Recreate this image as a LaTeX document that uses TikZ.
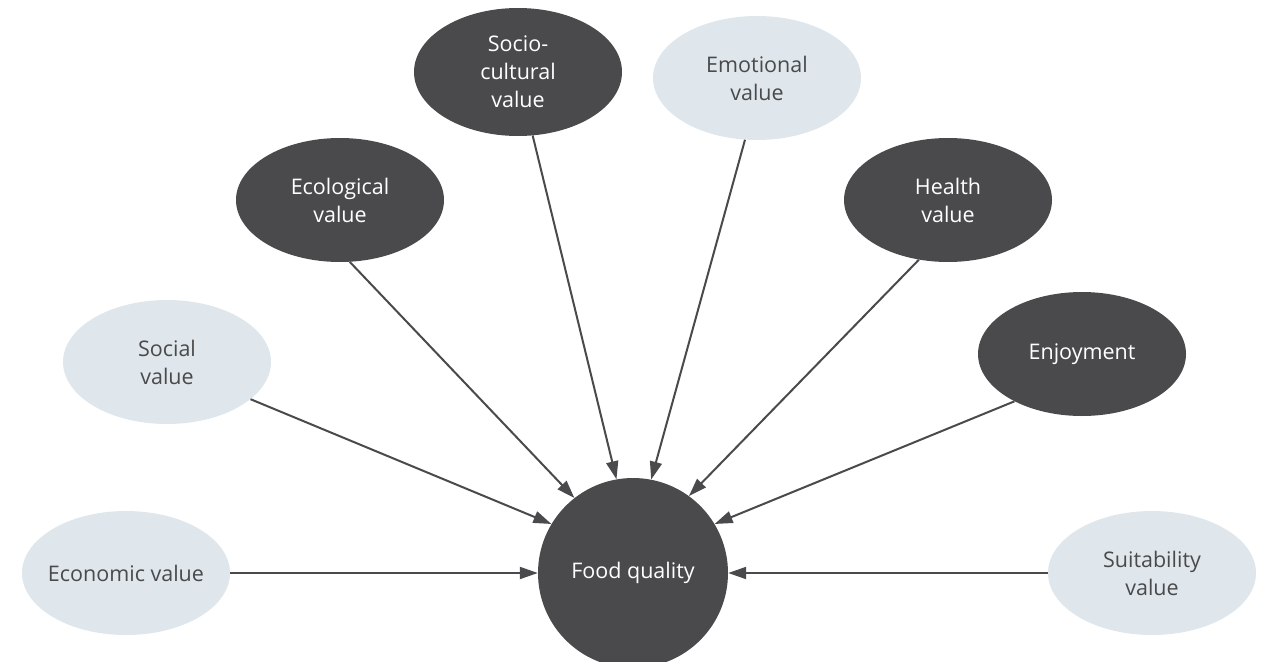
\documentclass[tikz,border=0pt]{standalone}
\usepackage{fontspec}
\setmainfont{Open Sans}
\usetikzlibrary{shapes.geometric,arrows.meta}
\definecolor{darkfill}{HTML}{4A4A4C}
\definecolor{lightfill}{HTML}{DFE7EC}
\definecolor{linecol}{HTML}{4A4A4C}
\tikzset{
  base/.style={ellipse, inner sep=0pt, minimum width=208pt, minimum height=124pt, align=center,
    font=\fontsize{21.5}{28}\selectfont},
  darkel/.style={base, fill=darkfill, text=white},
  lightel/.style={base, fill=lightfill, text=darkfill},
  hub/.style={circle, fill=darkfill, text=white, minimum size=190pt, inner sep=0pt, font=\fontsize{21.5}{28}\selectfont},
  conn/.style={draw=linecol, line width=2pt, -{Triangle[length=18pt,width=12pt]}}
}
\begin{document}
\begin{tikzpicture}[x=1pt,y=-1pt]
\useasboundingbox (0,0) rectangle (1268,661);
\clip (0,0) rectangle (1268,661);
\node[hub] (fq) at (633,573) {Food quality};
\node[lightel, inner xsep=-10pt] (eco) at (126,573) {Economic value};
\node[lightel] (soc) at (167,362) {Social\\value};
\node[darkel] (ecl) at (340,200) {Ecological\\value};
\node[darkel, minimum height=128pt] (scv) at (518,72) {Socio-\\cultural\\value};
\node[lightel] (emo) at (757,78) {Emotional\\value};
\node[darkel] (hea) at (948,200) {Health\\value};
\node[darkel] (enj) at (1082,354) {Enjoyment};
\node[lightel] (sui) at (1152,573) {Suitability\\value};
\draw[conn] (eco.0) -- (fq.180);
\draw[conn] (soc.-24.6) -- (fq.149.5);
\draw[conn] (ecl.-81) -- (fq.128);
\draw[conn] (scv.-77) -- (fq.100.8);
\draw[conn] (emo.-101) -- (fq.79);
\draw[conn] (hea.-116.6) -- (fq.54.9);
\draw[conn] (enj.-145.5) -- (fq.31.5);
\draw[conn] (sui.180) -- (fq.0);
\end{tikzpicture}
\end{document}
